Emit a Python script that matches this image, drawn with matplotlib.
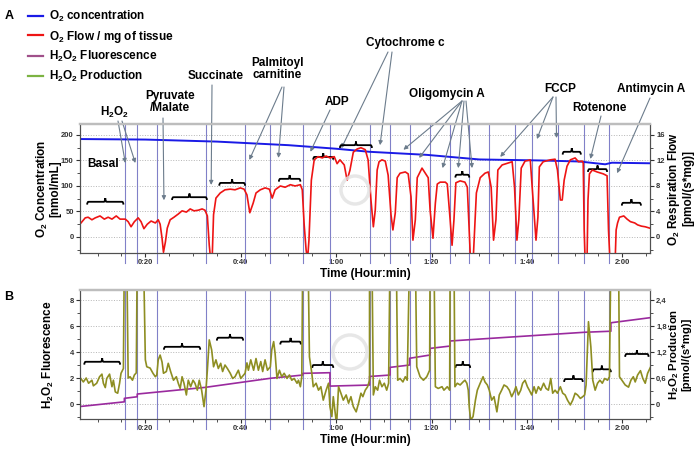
import matplotlib
matplotlib.use("Agg")
import matplotlib.pyplot as plt
from matplotlib.path import Path
from matplotlib.patches import PathPatch, Circle
from matplotlib.lines import Line2D
from matplotlib.ticker import MultipleLocator, FuncFormatter

plt.rcParams["font.family"] = "Liberation Sans"
plt.rcParams["font.weight"] = "bold"
plt.rcParams["mathtext.fontset"] = "custom"
plt.rcParams["mathtext.bf"] = "Liberation Sans:bold"
plt.rcParams["mathtext.rm"] = "Liberation Sans:bold"
plt.rcParams["mathtext.default"] = "bf"

### data (time in minutes)
# additions (vertical marker lines)
events = [15.8, 18.3, 22.5, 32.7, 40.9, 46.2, 53.0, 58.7, 67.0, 71.2, 75.4,
          79.6, 83.8, 87.9, 92.1, 97.4, 101.1, 106.5, 111.9, 117.3]

# O2 concentration [nmol/mL]
o2_conc = [(6.3, 192), (20, 191), (35, 187), (50, 180), (60, 173), (67, 167),
           (79, 161), (90, 152), (103, 150), (111, 148), (116.4, 142.5),
           (117.8, 145.6), (125.8, 144.5)]

# O2 flow per mg [pmol/(s*mg)]
o2_flow = [(6.5, 2.2), (7.4, 3.0), (8.0, 3.1), (8.8, 2.7), (9.5, 3.0), (10.5, 3.3),
           (11.4, 2.8), (12.2, 3.1), (13.0, 2.8), (13.9, 3.3), (14.7, 2.8), (15.8, 2.8),
           (16.4, 2.4), (17.0, 1.6), (17.7, 2.4), (18.5, 3.0), (19.1, 2.4), (19.7, 1.3),
           (20.4, 2.0), (21.2, 2.5), (22.1, 2.2), (22.7, 2.7), (23.1, 2.0), (23.5, -0.2),
           (23.8, -2.4), (24.2, -0.8), (24.6, 1.4), (25.2, 2.7), (26.0, 3.1), (26.9, 3.6),
           (27.7, 4.1), (28.6, 3.9), (29.4, 4.4), (30.2, 4.1), (31.1, 4.2), (31.9, 4.4),
           (32.5, 4.2), (33.0, 3.3), (33.4, -1.3), (33.7, -3.6), (34.0, -3.6), (34.3, 3.5),
           (34.8, 6.1), (35.7, 6.9), (36.7, 7.4), (37.8, 7.5), (38.8, 7.4), (39.9, 7.7),
           (40.7, 7.5), (41.3, 6.6), (41.9, 3.8), (42.6, 5.3), (43.2, 6.9), (44.1, 7.4),
           (45.1, 7.7), (46.0, 7.5), (46.6, 6.1), (47.2, 7.4), (48.3, 8.0), (49.3, 7.8),
           (50.4, 8.2), (51.4, 8.0), (52.5, 8.2), (52.9, 7.4), (53.3, 1.9), (53.7, -2.0),
           (54.0, -3.6), (54.3, -0.5), (54.8, 8.9), (55.4, 12.1), (56.2, 12.6), (57.1, 12.4),
           (57.9, 12.7), (58.7, 12.4), (59.6, 12.6), (60.2, 11.5), (60.8, 12.1), (61.7, 11.3),
           (62.3, 8.9), (62.9, 10.5), (63.6, 13.3), (64.4, 13.8), (65.2, 14.0), (66.1, 13.7),
           (66.7, 12.1), (67.3, 5.8), (67.8, 1.6), (68.2, 4.2), (68.6, 10.5), (69.0, 11.8),
           (69.6, 12.1), (70.3, 11.9), (70.9, 9.7), (71.5, 3.5), (71.9, 1.1), (72.4, 3.8),
           (72.8, 9.3), (73.4, 10.0), (74.5, 10.2), (75.1, 9.9), (75.7, 6.3), (76.1, -0.5),
           (76.6, 2.7), (77.0, 9.3), (78.0, 10.8), (78.7, 10.0), (79.3, 9.3), (79.7, 4.2),
           (80.3, -0.2), (80.8, 5.3), (81.2, 8.3), (81.8, 8.6), (82.9, 8.6), (83.3, 8.3),
           (83.9, 2.7), (84.3, -1.3), (84.7, 2.7), (85.1, 8.5), (86.0, 8.8), (87.0, 8.6),
           (87.5, 7.8), (88.1, -2.5), (88.5, -3.6), (88.8, -2.5), (89.4, 6.9), (90.2, 9.3),
           (91.2, 10.0), (91.9, 10.2), (92.5, 7.8), (93.0, -0.5), (93.5, 2.7), (93.9, 10.5),
           (94.8, 11.3), (96.1, 11.6), (96.9, 11.8), (97.4, 7.8), (97.9, -0.5), (98.3, 2.7),
           (98.8, 10.8), (99.6, 11.9), (100.7, 12.1), (101.1, 7.8), (101.9, -0.5), (102.3, 3.1),
           (102.6, 11.0), (103.4, 11.8), (104.9, 12.1), (105.9, 12.2), (106.4, 10.5),
           (107.0, 5.8), (107.4, 5.8), (107.8, 8.9), (108.4, 11.1), (109.1, 12.1),
           (110.1, 12.4), (110.8, 11.8), (111.6, 11.9), (111.8, 11.6), (112.0, 1.1),
           (112.2, -3.6), (112.6, -3.6), (112.8, 5.8), (113.1, 9.9), (113.7, 10.5),
           (114.7, 10.2), (116.0, 9.9), (116.8, 9.6), (117.1, 1.1), (117.4, -3.6),
           (118.5, -3.6), (118.7, 1.1), (119.0, 2.2), (119.4, 3.1), (120.3, 3.3),
           (121.0, 2.8), (121.7, 2.4), (122.6, 2.2), (123.2, 1.9), (124.0, 1.7),
           (124.8, 1.6), (125.7, 1.4)]

# H2O2 fluorescence
h2o2_fluo = [(6.3, -0.19), (15.6, 0.17), (15.6, 0.44), (18.3, 0.56), (18.3, 0.77),
             (32.5, 1.28), (46.2, 1.98), (53.0, 2.23), (53.0, 2.36), (58.7, 2.41),
             (58.7, 1.38), (67.0, 1.46), (67.0, 2.12), (71.3, 2.23), (71.3, 2.82),
             (75.4, 3.0), (75.4, 3.52), (79.7, 3.77), (79.7, 4.28), (83.9, 4.46),
             (83.9, 4.85), (112.1, 5.52), (117.6, 5.6), (117.6, 6.25), (125.8, 6.64)]

# H2O2 production [pmol/(s*mg)]
h2o2_prod = [(6.2, 0.63), (7.0, 0.51), (7.6, 0.60), (8.1, 0.48), (8.8, 0.55), (9.1, 0.42),
             (9.8, 0.48), (10.4, 0.63), (10.9, 0.69), (11.2, 0.48), (11.6, 0.38), (11.9, 0.59),
             (12.5, 0.69), (13.0, 0.40), (13.3, 0.55), (13.7, 0.28), (14.2, 0.25), (14.6, 0.48),
             (14.9, 0.71), (15.4, 0.82), (15.6, 3.5), (16.1, 3.5), (16.4, 0.60), (16.8, 0.63),
             (17.3, 0.55), (17.7, 0.67), (18.1, 0.72), (18.3, 3.5), (19.6, 3.5), (20.0, 1.02),
             (20.3, 0.86), (21.0, 0.83), (21.6, 0.71), (22.1, 0.63), (22.4, 0.67), (22.7, 1.02),
             (23.1, 1.13), (23.5, 0.97), (23.8, 0.71), (24.4, 0.75), (24.8, 0.94), (25.3, 0.75),
             (25.9, 0.55), (26.5, 0.63), (26.9, 0.48), (27.3, 0.36), (27.7, 0.63), (28.1, 0.48),
             (28.6, 0.21), (29.0, 0.55), (29.5, 0.40), (30.0, 0.55), (30.4, 0.48), (30.9, 0.32),
             (31.3, 0.55), (31.8, 0.32), (32.3, -0.06), (32.7, 0.32), (33.0, 0.78), (33.4, 1.48),
             (33.9, 1.25), (34.3, 0.86), (34.8, 1.02), (35.3, 0.82), (35.8, 0.94), (36.2, 0.75),
             (36.7, 0.90), (37.2, 0.82), (37.8, 0.71), (38.3, 0.59), (38.8, 0.63), (39.5, 0.78),
             (40.0, 0.59), (40.6, 0.67), (40.9, 0.71), (41.3, 0.95), (41.6, 0.78), (42.1, 1.02),
             (42.7, 0.78), (43.2, 1.05), (43.7, 0.78), (44.2, 0.98), (44.6, 0.75), (45.1, 1.02),
             (45.6, 0.78), (46.2, 0.86), (46.5, 1.25), (46.9, 1.44), (47.2, 1.17), (47.6, 0.59),
             (48.1, 0.78), (48.6, 0.63), (49.1, 0.71), (49.7, 0.59), (50.2, 0.67), (50.7, 0.55),
             (51.2, 0.59), (51.8, 0.48), (52.1, 0.55), (52.5, 0.40), (52.8, 0.63), (53.0, 3.5),
             (54.1, 3.5), (54.4, 1.09), (54.9, 0.71), (55.2, 0.40), (55.8, 0.48), (56.3, 0.32),
             (56.8, 0.40), (57.3, 0.09), (57.9, 0.32), (58.4, 0.48), (58.7, -0.06), (59.1, -0.29),
             (59.4, 0.17), (59.8, -0.21), (60.1, -0.48), (60.5, 0.40), (61.0, 0.25), (61.5, 0.09),
             (62.1, 0.21), (62.6, 0.02), (63.1, 0.17), (63.6, -0.06), (64.2, -0.18), (64.7, 0.02),
             (65.2, 0.25), (65.6, 0.17), (66.1, 0.32), (66.6, 0.40), (67.0, 0.55), (67.0, 3.5),
             (67.5, 3.5), (67.8, 0.21), (68.2, 0.40), (68.7, 0.32), (69.1, 0.55), (69.6, 0.40),
             (70.1, 0.48), (70.6, 0.32), (71.0, 0.48), (71.3, 3.5), (72.6, 3.5), (72.9, 0.55),
             (73.4, 0.59), (74.0, 0.51), (74.5, 0.63), (74.9, 0.55), (75.4, 3.5), (76.6, 3.5),
             (76.9, 0.86), (77.6, 0.63), (78.3, 0.55), (79.0, 0.63), (79.6, 0.78), (79.7, 3.5),
             (80.5, 3.5), (80.8, 0.40), (81.4, 0.36), (82.2, 0.40), (82.6, 0.32), (83.3, 0.40),
             (83.8, 0.32), (83.9, 3.5), (84.7, 3.5), (84.9, 0.40), (85.4, 0.48), (86.0, 0.44),
             (86.6, 0.51), (87.0, 0.55), (87.4, 0.48), (87.7, 0.32), (87.9, -0.06), (88.2, -0.37),
             (88.7, -0.29), (89.2, 0.09), (89.6, 0.32), (90.2, 0.48), (90.8, 0.63), (91.2, 0.51),
             (91.7, 0.44), (92.1, 0.32), (92.6, 0.09), (93.1, 0.17), (93.7, -0.18), (94.2, 0.21),
             (94.7, 0.32), (95.2, 0.44), (95.8, 0.40), (96.3, 0.32), (96.8, 0.17), (97.3, 0.28),
             (97.7, 0.40), (98.2, 0.21), (98.7, 0.32), (99.1, 0.48), (99.6, 0.55), (100.1, 0.40),
             (100.5, 0.32), (101.0, 0.21), (101.5, 0.40), (101.9, 0.25), (102.4, 0.40),
             (102.9, 0.32), (103.5, 0.48), (104.0, 0.36), (104.5, 0.32), (105.0, 0.59),
             (105.4, 0.25), (105.9, 0.32), (106.4, 0.25), (107.0, 0.40), (107.5, 0.25),
             (108.0, 0.21), (108.5, 0.09), (109.1, -0.02), (109.6, 0.09), (110.1, 0.25),
             (110.6, 0.21), (111.2, 0.13), (111.7, 0.17), (112.1, 0.21), (112.4, 0.44),
             (112.9, 1.90), (113.4, 1.32), (113.8, 0.55), (114.3, 0.32), (114.8, 0.48),
             (115.3, 0.55), (115.8, 0.48), (116.3, 0.59), (116.9, 0.55), (117.3, 0.63),
             (117.6, 3.5), (119.2, 3.5), (119.4, 0.63), (119.9, 0.55), (120.6, 0.44),
             (121.3, 0.39), (121.8, 0.55), (122.3, 0.63), (122.7, 0.51), (123.2, 0.67),
             (123.8, 0.77), (124.3, 0.59), (124.8, 0.48), (125.3, 0.71), (125.9, 0.85)]

# averaging brackets: (start, end, level)
braces_A = [(7.8, 15.4, 69), (25.6, 32.9, 78), (35.5, 40.9, 106), (48.0, 52.5, 114),
            (55.2, 59.4, 157), (60.8, 67.5, 180), (85.0, 87.9, 122), (107.5, 111.3, 167),
            (112.8, 116.8, 133), (119.9, 123.9, 67)]
braces_B = [(7.2, 14.7, 3.25), (23.9, 31.5, 4.4), (35.0, 40.5, 5.1), (48.3, 52.6, 4.8),
            (55.0, 59.4, 3.0), (85.0, 88.1, 3.0), (107.8, 111.7, 1.92), (113.8, 117.6, 2.67),
            (120.6, 125.5, 3.85)]

# substrate labels: text, text position (px), arrows [(start px, tip (min, nmol/mL))]
notes = [
    ("H$_2$O$_2$", (115, 112), [((118, 121), (15.8, 145)), ((122, 121), (17.9, 145))]),
    ("Pyruvate\n/Malate", (170, 102), [((163, 118), (23.9, 72))]),
    ("Succinate", (216, 76), [((212, 85), (33.8, 102))]),
    ("Palmitoyl\ncarnitine", (277, 69), [((282, 87), (41.8, 151)), ((284, 87), (47.9, 155))]),
    ("ADP", (337, 102), [((330, 110), (54.6, 167))]),
    ("Cytochrome c", (405, 43), [((388, 52), (61.1, 174)), ((392, 52), (69.2, 180))]),
    ("Oligomycin A", (447, 94), [((462, 101), (74.1, 171)), ((462, 101), (77.4, 155)),
                                 ((462, 101), (82.3, 135)), ((464, 101), (85.6, 135)),
                                 ((466, 101), (88.5, 135))]),
    ("FCCP", (560, 89), [((553, 97), (94.4, 157)), ((553, 97), (102.1, 192)),
                         ((556, 97), (106.2, 194))]),
    ("Rotenone", (599, 108), [((601, 116), (113.3, 153))]),
    ("Antimycin A", (651, 89), [((650, 98), (118.9, 125))]),
]

W, H = 697, 455


def fpx(x, y):
    return (x / W, 1 - y / H)


def brace(ax, t0, t1, v, h, d):
    m = (t0 + t1) / 2
    verts = [(t0, v - h), (t0, v), (t0 + d, v), (m - d, v), (m, v), (m, v + h * 1.3),
             (m, v), (m + d, v), (t1 - d, v), (t1, v), (t1, v - h)]
    codes = [Path.MOVETO, Path.CURVE3, Path.CURVE3, Path.LINETO, Path.CURVE3, Path.CURVE3,
             Path.CURVE3, Path.CURVE3, Path.LINETO, Path.CURVE3, Path.CURVE3]
    ax.add_patch(PathPatch(Path(verts, codes), fill=False, lw=1.3, color="black", zorder=5))


def time_fmt(t, pos):
    return f"{int(t // 60)}:{int(t % 60):02d}"


def style(ax):
    for s in ["left", "right", "bottom"]:
        ax.spines[s].set_color("#505050")
        ax.spines[s].set_linewidth(0.8)
    ax.spines["top"].set_color("#bdbdbd")
    ax.spines["top"].set_linewidth(1.6)
    ax.tick_params(which="both", direction="out", labelsize=5.5, colors="#333333", pad=1.5)
    ax.tick_params(which="major", length=3)
    ax.tick_params(which="minor", length=2)


fig = plt.figure(figsize=(6.97, 4.55), dpi=100)
xlim = (6.3, 125.8)
event_color = "#8080c8"

### panel A
axA = fig.add_axes([80 / W, 1 - 253 / H, 570 / W, 129 / H])
axA.set_xlim(*xlim)
axA.set_ylim(-31.4, 221.5)
axA2 = axA.twinx()
axA2.set_ylim(-31.4 / 12.5, 221.5 / 12.5)
for t in events:
    axA.axvline(t, ymin=-0.078, ymax=1, color=event_color, lw=0.8, clip_on=False, zorder=1)
axA.plot([p[0] for p in o2_conc], [p[1] for p in o2_conc], color="#1a1ae6", lw=1.4, zorder=3)
axA2.plot([p[0] for p in o2_flow], [p[1] for p in o2_flow], color="#ee1414", lw=1.2)
axA.set_axisbelow(True)
axA.grid(axis="y", ls=":", color="#b5b5b5", lw=0.7)
axA.yaxis.set_major_locator(MultipleLocator(50))
axA.yaxis.set_minor_locator(MultipleLocator(25))
axA2.yaxis.set_major_locator(MultipleLocator(4))
axA2.yaxis.set_minor_locator(MultipleLocator(2))
axA.xaxis.set_major_locator(MultipleLocator(20))
axA.xaxis.set_minor_locator(MultipleLocator(5))
axA.xaxis.set_major_formatter(FuncFormatter(time_fmt))
style(axA)
style(axA2)
axA.set_ylabel("O$_2$ Concentration\n[nmol/mL]", fontsize=8.5, fontweight="bold", linespacing=1.0)
axA.yaxis.set_label_coords(-0.032, 0.5)
axA2.set_ylabel("O$_2$ Respiration Flow\n[pmol/(s*mg)]", fontsize=8.5, fontweight="bold",
                linespacing=1.0)
axA2.yaxis.set_label_coords(1.028, 0.5)
axA.set_xlabel("Time (Hour:min)", fontsize=8.5, fontweight="bold", labelpad=1)
for t0, t1, v in braces_A:
    brace(axA, t0, t1, v, 5.5, 0.3)
fig.text(*fpx(103, 164), "Basal", fontsize=8.5, fontweight="bold", ha="center", va="center")

for label, pos, arrows in notes:
    fig.text(*fpx(*pos), label, fontsize=8.5, fontweight="bold", ha="center", va="center",
             linespacing=1.1)
    for start, tip in arrows:
        axA.annotate("", xy=tip, xycoords="data", xytext=fpx(*start),
                     textcoords="figure fraction", annotation_clip=False,
                     arrowprops=dict(arrowstyle="-|>", color="#6c7c8c", lw=0.8,
                                     mutation_scale=6, shrinkA=0, shrinkB=0))

### panel B
axB = fig.add_axes([80 / W, 1 - 419 / H, 570 / W, 129 / H])
axB.set_xlim(*xlim)
axB.set_ylim(-1.15, 8.77)
axB2 = axB.twinx()
axB2.set_ylim(-1.15 * 0.3, 8.77 * 0.3)
for t in events:
    axB.axvline(t, ymin=-0.078, ymax=1, color=event_color, lw=0.8, clip_on=False, zorder=1)
axB.plot([p[0] for p in h2o2_fluo], [p[1] for p in h2o2_fluo], color="#9a2a9e", lw=1.2, zorder=3)
axB2.plot([p[0] for p in h2o2_prod], [p[1] for p in h2o2_prod], color="#8e8e22", lw=1.2)
axB.set_axisbelow(True)
axB.grid(axis="y", ls=":", color="#b5b5b5", lw=0.7)
axB.yaxis.set_major_locator(MultipleLocator(2))
axB.yaxis.set_minor_locator(MultipleLocator(1))
axB2.yaxis.set_major_locator(MultipleLocator(0.6))
axB2.yaxis.set_minor_locator(MultipleLocator(0.3))
axB2.yaxis.set_major_formatter(FuncFormatter(lambda v, p: ("%g" % round(v, 1)).replace(".", ",")))
axB.xaxis.set_major_locator(MultipleLocator(20))
axB.xaxis.set_minor_locator(MultipleLocator(5))
axB.xaxis.set_major_formatter(FuncFormatter(time_fmt))
style(axB)
style(axB2)
axB.set_ylabel("H$_2$O$_2$ Fluorescence", fontsize=8.5, fontweight="bold")
axB.yaxis.set_label_coords(-0.042, 0.5)
axB2.set_ylabel("H$_2$O$_2$ Production\n[pmol/(s*mg)]", fontsize=8.2, fontweight="bold",
                linespacing=1.0)
axB2.yaxis.set_label_coords(1.031, 0.5)
axB.set_xlabel("Time (Hour:min)", fontsize=8.5, fontweight="bold", labelpad=1)
for t0, t1, v in braces_B:
    brace(axB, t0, t1, v, 0.22, 0.3)

# faint watermark logos
for cx, cy, r in [(355, 190, 14), (350, 352, 17)]:
    fig.patches.append(Circle((cx / 100, (H - cy) / 100), r / 100, transform=fig.dpi_scale_trans,
                              fill=False, ec="#e2e2e2", lw=2.5, alpha=0.8))

### legend and panel letters
handles = [Line2D([], [], color=c, lw=1.6) for c in ["#1a1ae6", "#ee1414", "#a0508a", "#7cb342"]]
labels = ["O$_2$ concentration", "O$_2$ Flow / mg of tissue", "H$_2$O$_2$ Fluorescence",
          "H$_2$O$_2$ Production"]
fig.legend(handles, labels, loc="upper left", bbox_to_anchor=fpx(28, 9), frameon=False,
           prop=dict(weight="bold", size=8.5), handlelength=1.3, handletextpad=0.5,
           labelspacing=0.38, borderaxespad=0, borderpad=0)
fig.text(*fpx(9, 16), "A", fontsize=9, fontweight="bold", ha="center", va="center")
fig.text(*fpx(9, 297), "B", fontsize=9, fontweight="bold", ha="center", va="center")

fig.savefig("out.png", dpi=100)
